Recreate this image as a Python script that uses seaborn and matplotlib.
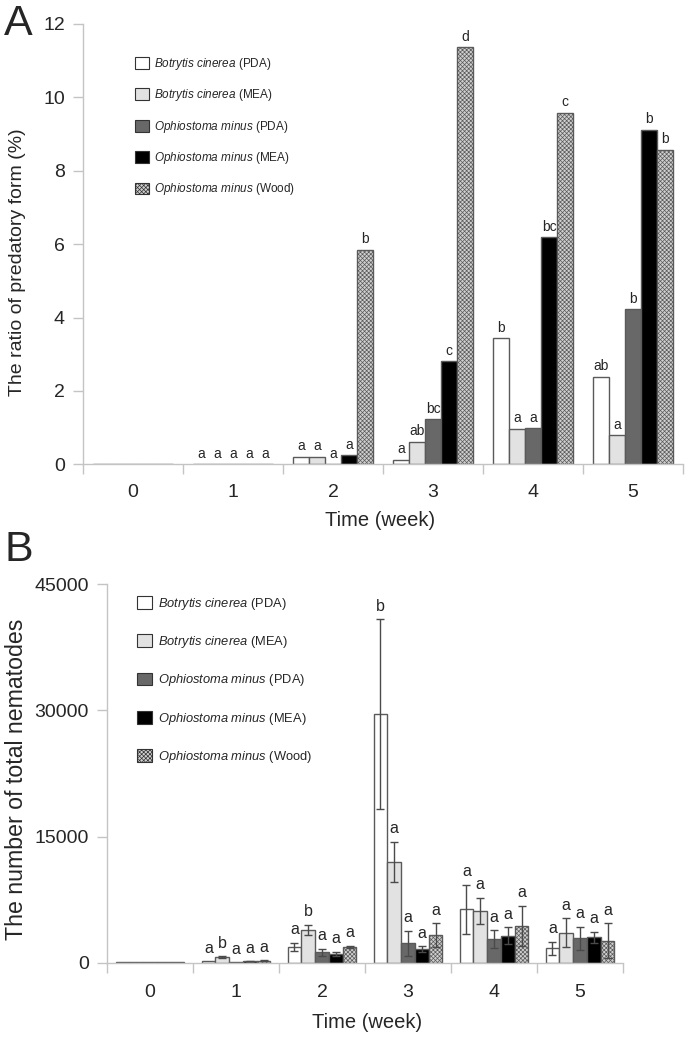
import numpy as np
import pandas as pd
import matplotlib
matplotlib.use("Agg")
import matplotlib.pyplot as plt
from matplotlib import font_manager
from matplotlib.patches import Patch
import seaborn as sns

# ---------------- data ----------------
weeks = ["0", "1", "2", "3", "4", "5"]
treatments = ["Botrytis cinerea (PDA)", "Botrytis cinerea (MEA)",
              "Ophiostoma minus (PDA)", "Ophiostoma minus (MEA)",
              "Ophiostoma minus (Wood)"]
species = ["Botrytis cinerea", "Botrytis cinerea", "Ophiostoma minus",
           "Ophiostoma minus", "Ophiostoma minus"]
media = ["PDA", "MEA", "PDA", "MEA", "Wood"]

# Panel A: ratio of predatory form (%) ; one list per treatment, over weeks
ratio_bc_pda = [0, 0, 0.2, 0.12, 3.43, 2.39]
ratio_bc_mea = [0, 0, 0.2, 0.62, 0.97, 0.79]
ratio_om_pda = [0, 0, 0.0, 1.23, 0.99, 4.23]
ratio_om_mea = [0, 0, 0.25, 2.81, 6.19, 9.12]
ratio_om_wood = [0, 0, 5.85, 11.37, 9.58, 8.57]
letters_a = [
    ["", "a", "a", "a", "b", "ab"],
    ["", "a", "a", "ab", "a", "a"],
    ["", "a", "a", "bc", "a", "b"],
    ["", "a", "a", "c", "bc", "b"],
    ["", "a", "b", "d", "c", "b"],
]

# Panel B: number of total nematodes, with error
num_bc_pda = [100, 150, 1900, 29570, 6350, 1710]
num_bc_mea = [100, 620, 3890, 12010, 6150, 3570]
num_om_pda = [100, 60, 1240, 2300, 2780, 2900]
num_om_mea = [100, 150, 1030, 1590, 3210, 3020]
num_om_wood = [100, 220, 1900, 3290, 4400, 2620]
err_bc_pda = [0, 0, 500, 11260, 2900, 790]
err_bc_mea = [0, 120, 630, 2380, 1580, 1710]
err_om_pda = [0, 0, 420, 1500, 1070, 1340]
err_om_mea = [0, 40, 280, 350, 1000, 670]
err_om_wood = [0, 60, 120, 1400, 2380, 2060]
letters_b = [
    ["", "a", "a", "b", "a", "a"],
    ["", "b", "b", "a", "a", "a"],
    ["", "a", "a", "a", "a", "a"],
    ["", "a", "a", "a", "a", "a"],
    ["", "a", "a", "a", "a", "a"],
]

ratios = [ratio_bc_pda, ratio_bc_mea, ratio_om_pda, ratio_om_mea, ratio_om_wood]
nums = [num_bc_pda, num_bc_mea, num_om_pda, num_om_mea, num_om_wood]
errs = [err_bc_pda, err_bc_mea, err_om_pda, err_om_mea, err_om_wood]

# ---------------- style ----------------
sns.set_theme(style="white")
avail = {f.name for f in font_manager.fontManager.ttflist}
FONT = "Liberation Sans Narrow" if "Liberation Sans Narrow" in avail else "Liberation Sans"
plt.rcParams["font.family"] = [FONT, "DejaVu Sans"]
plt.rcParams["mathtext.fontset"] = "custom"
plt.rcParams["mathtext.it"] = FONT + ":italic"
plt.rcParams["mathtext.rm"] = FONT
plt.rcParams["hatch.color"] = "#707070"
plt.rcParams["hatch.linewidth"] = 0.5

faces = ["#ffffff", "#e2e2e2", "#686868", "#000000", "#d0d0d0"]
hatches = [None, None, None, None, "xxxxxxxx"]
EDGE = "#5a5a5a"
AX_COL = "#c4c4c4"

def legend_label(sp, md):
    return r"$\it{" + sp.replace(" ", r"\ ") + "}$ (" + md + ")"

def long_df(values):
    rows = []
    for t, vals in zip(treatments, values):
        for w, v in zip(weeks, vals):
            rows.append({"week": w, "treatment": t, "value": v})
    return pd.DataFrame(rows)

def draw(ax, values):
    df = long_df(values)
    sns.barplot(data=df, x="week", y="value", hue="treatment",
                order=weeks, hue_order=treatments, palette=faces,
                width=0.8, gap=0, errorbar=None, edgecolor=EDGE,
                linewidth=1.0, legend=False, ax=ax)
    for cont, fc, h in zip(ax.containers, faces, hatches):
        for p in cont.patches:
            p.set_facecolor(fc)
            p.set_edgecolor(EDGE)
            if h:
                p.set_hatch(h)
    return [list(c.patches) for c in ax.containers]

def style_axes(ax, fs_tick, xpad):
    for s in ["top", "right"]:
        ax.spines[s].set_visible(False)
    for s in ["left", "bottom"]:
        ax.spines[s].set_color(AX_COL)
        ax.spines[s].set_linewidth(1.0)
    ax.set_xlim(-0.5, 5.5)
    ax.tick_params(axis="y", direction="out", length=7, width=1.0,
                   color=AX_COL, labelsize=fs_tick, pad=6, left=True)
    ax.tick_params(axis="x", which="major", length=0, labelsize=fs_tick, pad=xpad)
    ax.set_xticks(np.arange(-0.5, 6.0, 1.0), minor=True)
    ax.tick_params(axis="x", which="minor", direction="out", length=7,
                   width=1.0, color=AX_COL, bottom=True)
    ax.grid(False)

def add_legend(x, y, spacing, fs):
    handles = [Patch(facecolor=fc, edgecolor="#333333", hatch=h, linewidth=0.8)
               for fc, h in zip(faces, hatches)]
    labels = [legend_label(s, m) for s, m in zip(species, media)]
    fig.legend(handles, labels, loc="upper left", bbox_to_anchor=(x, y),
               bbox_transform=fig.transFigure, frameon=False, fontsize=fs,
               handlelength=1.15, handleheight=1.15, handletextpad=0.45,
               labelspacing=spacing, borderpad=0, borderaxespad=0)

fig = plt.figure(figsize=(6.85, 10.39), dpi=100)
W, H = 685, 1039

# ---------------- Panel A ----------------
axA = fig.add_axes([83 / W, 1 - 464.3 / H, 600 / W, 440.3 / H])
barsA = draw(axA, ratios)
axA.set_ylim(0, 12)
axA.set_yticks([0, 2, 4, 6, 8, 10, 12])
style_axes(axA, 14, 14)
axA.set_xlabel("Time (week)", fontsize=14.5)
axA.xaxis.set_label_coords((380 - 83) / 600, -(520 - 464.3) / 440.3)
axA.xaxis.label.set_va("center")
axA.set_ylabel("The ratio of predatory form (%)", fontsize=14)
axA.yaxis.set_label_coords((18 - 83) / 600, (464.3 - 262) / 440.3)
axA.yaxis.label.set_va("center")
for i, patches in enumerate(barsA):
    for j, p in enumerate(patches):
        lab = letters_a[i][j]
        if lab:
            axA.annotate(lab, (p.get_x() + p.get_width() / 2, p.get_height()),
                         xytext=(0, 2.5), textcoords="offset points",
                         ha="center", va="bottom", fontsize=10)
add_legend(135 / W, 1 - 56 / H, 1.3, 8.5)
fig.text(4 / W, 1 - 4 / H, "A", fontsize=31, va="top", ha="left")

# ---------------- Panel B ----------------
axB = fig.add_axes([107 / W, 1 - 962.7 / H, 516 / W, 378.4 / H])
barsB = draw(axB, nums)
axB.set_ylim(0, 45000)
axB.set_yticks([0, 15000, 30000, 45000])
style_axes(axB, 14, 15)
axB.set_xlabel("Time (week)", fontsize=14.5)
axB.xaxis.set_label_coords((367 - 107) / 516, -(1022 - 962.7) / 378.4)
axB.xaxis.label.set_va("center")
axB.set_ylabel("The number of total nematodes", fontsize=16.7)
axB.yaxis.set_label_coords((17 - 107) / 516, (962.7 - 779) / 378.4)
axB.yaxis.label.set_va("center")
for i, patches in enumerate(barsB):
    for j, p in enumerate(patches):
        xc = p.get_x() + p.get_width() / 2
        top = p.get_height()
        e = errs[i][j]
        if e > 0:
            axB.errorbar(xc, top, yerr=e, fmt="none", ecolor="#4a4a4a",
                         elinewidth=1.0, capsize=3, capthick=1.0)
        lab = letters_b[i][j]
        if lab:
            axB.annotate(lab, (xc, top + e), xytext=(0, 4),
                         textcoords="offset points", ha="center",
                         va="bottom", fontsize=11.5)
add_legend(137 / W, 1 - 596 / H, 1.72, 9.3)
fig.text(4 / W, 1 - 530 / H, "B", fontsize=31, va="top", ha="left")

fig.savefig("out.png", dpi=100)
